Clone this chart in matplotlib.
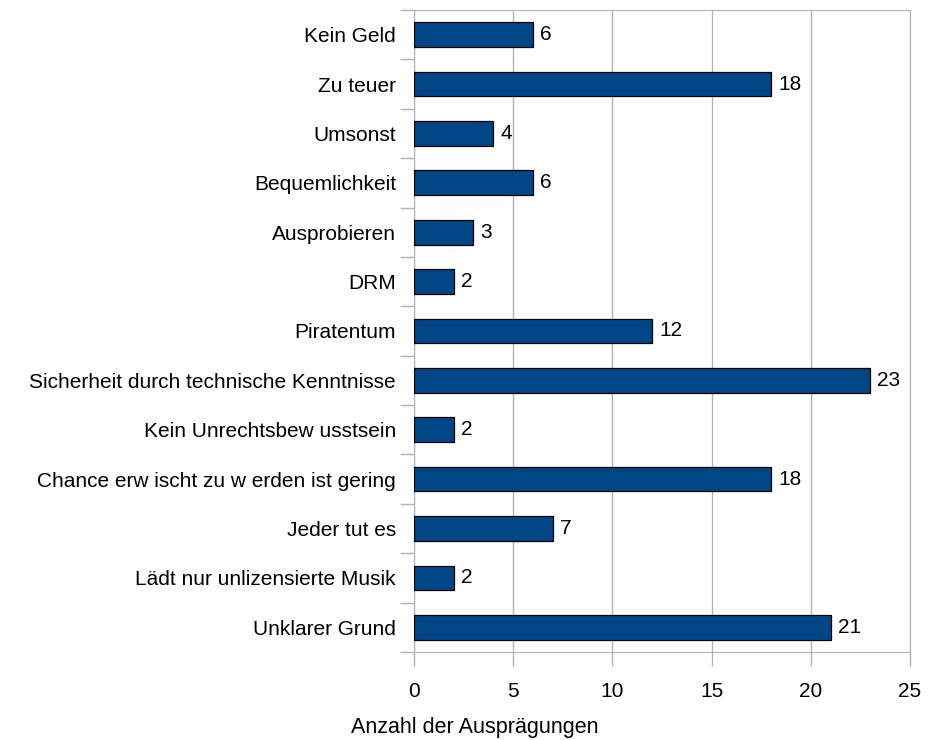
import numpy as np
import matplotlib
matplotlib.use('Agg')
import matplotlib.pyplot as plt

# Gründe, Anzahl der Nennungen
gruende = ['Kein Geld', 'Zu teuer', 'Umsonst', 'Bequemlichkeit', 'Ausprobieren', 'DRM',
           'Piratentum', 'Sicherheit durch technische Kenntnisse', 'Kein Unrechtsbew usstsein',
           'Chance erw ischt zu w erden ist gering', 'Jeder tut es',
           'Lädt nur unlizensierte Musik', 'Unklarer Grund']
anzahl = [6, 18, 4, 6, 3, 2, 12, 23, 2, 18, 7, 2, 21]
xticks = [0, 5, 10, 15, 20, 25]

plt.rcParams['font.family'] = ['Liberation Sans', 'DejaVu Sans']
plt.rcParams['font.size'] = 15

fig = plt.figure(figsize=(9.29, 7.4), dpi=100)
ax = fig.add_axes([0.4456, 0.119, 0.5339, 0.8675])

y = np.arange(len(gruende))
ax.barh(y, anzahl, height=0.5, color='#004586', edgecolor='black', linewidth=0.9, zorder=3)
for yi, v in zip(y, anzahl):
    ax.text(v + 0.35, yi, str(v), va='center', ha='left', fontsize=15)

ax.set_ylim(len(gruende) - 0.5, -0.5)
ax.set_xlim(0, 25)
ax.set_xticks(xticks)
ax.set_yticks(y)
ax.set_yticklabels(gruende)
ax.set_yticks(np.arange(len(gruende) + 1) - 0.5, minor=True)
ax.tick_params(axis='y', which='major', length=0, pad=13)
ax.tick_params(axis='y', which='minor', length=10, color='#b3b3b3', width=1)
ax.tick_params(axis='x', length=10, color='#b3b3b3', width=1, pad=12)
ax.grid(axis='x', color='#b3b3b3', linewidth=1, zorder=0)
for s in ax.spines.values():
    s.set_color('#b3b3b3')

fig.text(475 / 929, 1 - 727 / 740, 'Anzahl der Ausprägungen', ha='center', va='center', fontsize=15.5)

fig.savefig('out.png', dpi=100)
